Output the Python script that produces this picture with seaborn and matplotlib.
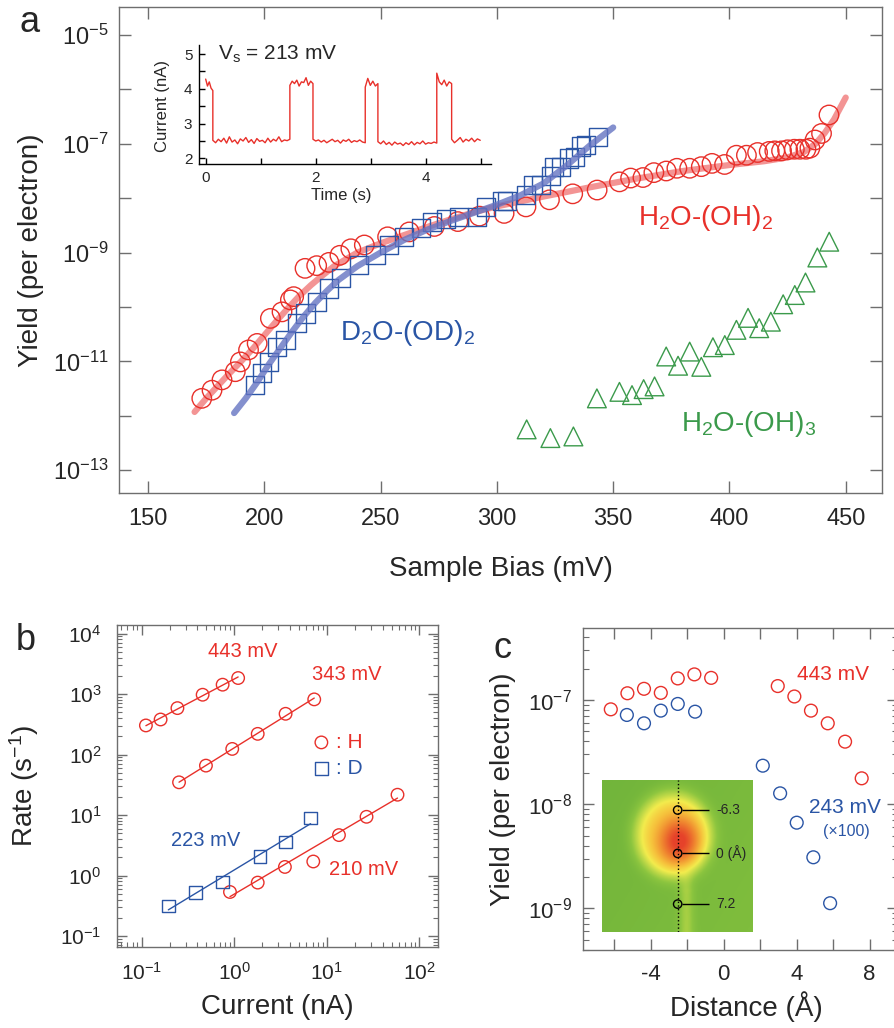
import numpy as np
import matplotlib
matplotlib.use("Agg")
import matplotlib.pyplot as plt
import seaborn as sns
from matplotlib.ticker import FixedLocator, FuncFormatter, NullLocator, LogLocator
from matplotlib.colors import LinearSegmentedColormap

sns.set_theme(style="ticks")
plt.rcParams["font.family"] = ["Liberation Sans", "DejaVu Sans"]
plt.rcParams["mathtext.default"] = "regular"

RED = "#e8302a"
BLUE = "#2a55a5"
GREEN = "#3b9a4b"
GREY = "#6e6e6e"

# ---- panel a: yield vs sample bias (yields as log10) ----
h2_bias = [173.1, 177.5, 181.8, 187.5, 189.7, 193.2, 196.9, 202.6, 207.6, 211.2, 212.6,
           217.5, 222.5, 227.8, 232.5, 237.2, 243.0, 253.0, 262.3, 273.1, 283.2, 292.5,
           303.1, 312.5, 322.6, 332.6, 343.1, 352.7, 357.5, 362.8, 367.5, 372.8, 377.4,
           382.9, 387.9, 392.5, 397.9, 403.0, 407.3, 412.1, 417.1, 419.5, 422.4, 425.0,
           427.9, 430.3, 432.9, 434.6, 436.8, 439.6, 442.8]
h2_log_yield = [-11.68, -11.53, -11.34, -11.19, -11.01, -10.79, -10.67, -10.21, -10.09, -9.87, -9.81,
                -9.29, -9.24, -9.18, -9.05, -8.93, -8.86, -8.71, -8.62, -8.52, -8.43, -8.33,
                -8.28, -8.16, -8.03, -7.92, -7.85, -7.70, -7.63, -7.62, -7.53, -7.50, -7.45,
                -7.45, -7.42, -7.36, -7.38, -7.21, -7.21, -7.16, -7.14, -7.13, -7.13, -7.11,
                -7.10, -7.10, -7.10, -7.08, -6.93, -6.81, -6.47]

d2_bias = [196.1, 199.0, 201.9, 205.5, 209.1, 214.1, 217.7, 222.7, 227.7, 232.8, 240.6, 247.8,
           253.6, 260.0, 267.2, 272.2, 278.0, 283.7, 291.6, 295.2, 302.4, 304.5, 312.5, 315.4,
           319.0, 323.3, 324.7, 327.6, 331.2, 333.4, 336.2, 338.4, 343.4]
d2_log_yield = [-11.43, -11.22, -11.01, -10.73, -10.61, -10.30, -10.12, -9.90, -9.66, -9.46, -9.23, -9.04,
                -8.86, -8.71, -8.55, -8.43, -8.38, -8.34, -8.34, -8.17, -8.05, -8.06, -7.94, -7.76,
                -7.76, -7.60, -7.43, -7.42, -7.27, -7.25, -7.05, -7.02, -6.87]

h3_bias = [312.8, 323.0, 332.9, 343.0, 352.7, 358.1, 363.1, 367.8, 372.8, 377.9, 382.9, 387.9,
           392.9, 398.0, 403.0, 408.0, 412.8, 417.8, 423.1, 428.1, 432.7, 437.8, 442.9]
h3_log_yield = [-12.25, -12.41, -12.38, -11.68, -11.56, -11.62, -11.51, -11.46, -10.91, -11.08, -10.82, -11.10,
                -10.74, -10.70, -10.42, -10.20, -10.39, -10.27, -9.95, -9.78, -9.55, -9.09, -8.80]

# fitted curves
h2_fit_bias = [170, 175, 180, 185, 190, 195, 200, 205, 210, 215, 220, 225, 230, 240, 250, 260,
               270, 280, 290, 300, 320, 340, 360, 380, 400, 415, 425, 432, 437, 441, 445, 450]
h2_fit_log = [-11.93, -11.68, -11.45, -11.22, -11.0, -10.77, -10.52, -10.27, -10.03, -9.8, -9.6, -9.42,
              -9.25, -9.0, -8.83, -8.68, -8.53, -8.39, -8.26, -8.15, -7.97, -7.8, -7.64, -7.5,
              -7.39, -7.32, -7.25, -7.15, -7.0, -6.8, -6.55, -6.15]
d2_fit_bias = [187, 192, 197, 202, 207, 212, 217, 222, 227, 232, 240, 250, 260, 270, 280, 290,
               300, 310, 320, 330, 340, 350]
d2_fit_log = [-11.95, -11.68, -11.38, -11.05, -10.75, -10.45, -10.17, -9.92, -9.7, -9.5, -9.25, -9.0,
              -8.77, -8.58, -8.42, -8.27, -8.12, -7.95, -7.73, -7.4, -7.03, -6.7]

# inset: telegraph current at Vs = 213 mV
seg_start = [0.00, 0.13, 1.53, 1.95, 2.90, 3.13, 4.20, 4.47]
seg_end = [0.13, 1.53, 1.95, 2.90, 3.13, 4.20, 4.47, 4.99]
seg_current = [
    [4.28, 4.08, 4.20, 4.02, 3.95],
    [2.52, 2.45, 2.55, 2.48, 2.58, 2.44, 2.62, 2.47, 2.53, 2.42, 2.56, 2.50, 2.60, 2.46, 2.54,
     2.43, 2.57, 2.49, 2.52, 2.45, 2.58, 2.47, 2.55, 2.50, 2.62, 2.48, 2.53, 2.51, 2.55],
    [4.10, 4.22, 4.15, 4.25, 4.08, 4.20, 4.18, 4.32, 4.10, 4.22, 4.15],
    [2.55, 2.50, 2.53, 2.47, 2.52, 2.45, 2.50, 2.55, 2.48, 2.52, 2.44, 2.53, 2.49, 2.55, 2.46,
     2.51, 2.48, 2.53, 2.47, 2.45],
    [4.05, 4.30, 4.10, 4.22, 4.08, 4.15],
    [2.48, 2.42, 2.50, 2.40, 2.46, 2.38, 2.47, 2.41, 2.44, 2.37, 2.45, 2.40, 2.48, 2.39, 2.46,
     2.42, 2.50, 2.41, 2.45, 2.43, 2.47, 2.44],
    [4.45, 4.20, 4.12, 4.25, 4.08, 4.20, 4.15],
    [2.55, 2.45, 2.52, 2.60, 2.47, 2.55, 2.50, 2.58, 2.48, 2.56, 2.52],
]

# ---- panel b: rate vs current ----
b443_current = [0.111, 0.160, 0.243, 0.455, 0.748, 1.10]
b443_rate = [303, 380, 586, 975, 1429, 1841]
b343_current = [0.253, 0.494, 0.95, 1.79, 3.58, 7.30]
b343_rate = [34.8, 65.7, 124, 220, 472, 817]
b210_current = [0.898, 1.79, 3.52, 7.13, 13.5, 26.8, 57.9]
b210_rate = [0.536, 0.766, 1.39, 1.71, 4.67, 9.37, 21.7]
b210_in_fit = [True, True, True, False, True, True, True]
b223_current = [0.194, 0.383, 0.748, 1.89, 3.58, 6.67]
b223_rate = [0.314, 0.523, 0.785, 2.07, 3.61, 8.91]

# ---- panel c: yield vs distance ----
c443_dist = [-6.18, -5.27, -4.36, -3.44, -2.51, -1.60, -0.68, 2.97, 3.88, 4.79, 5.71, 6.66, 7.57]
c443_yield = [8.13e-8, 1.16e-7, 1.28e-7, 1.17e-7, 1.61e-7, 1.76e-7, 1.63e-7, 1.36e-7, 1.08e-7,
              7.90e-8, 5.97e-8, 3.98e-8, 1.77e-8]
c243_dist = [-5.30, -4.36, -3.44, -2.51, -1.56, 2.15, 3.10, 4.01, 4.92, 5.84]
c243_yield = [7.18e-8, 5.97e-8, 7.90e-8, 9.16e-8, 7.72e-8, 2.34e-8, 1.27e-8, 6.64e-9, 3.09e-9, 1.12e-9]

# STM image inset: marked points along the line
stm_line_x = 0.507
stm_mark_y = [0.802, 0.516, 0.182]
stm_mark_labels = ["-6.3", "0 (Å)", "7.2"]


def box(left, top, right, bottom, W=894.0, H=1028.0):
    return [left / W, 1 - bottom / H, (right - left) / W, (bottom - top) / H]


def style(ax, size, length, minor_len=None):
    for sp in ax.spines.values():
        sp.set_color(GREY)
        sp.set_linewidth(1.0)
    ax.tick_params(which="major", direction="in", color=GREY, width=1.0, length=length,
                   labelsize=size, top=True, right=True)
    ax.tick_params(which="minor", direction="in", color=GREY, width=0.8,
                   length=minor_len or length / 2, top=True, right=True)


def pow10(v, pos):
    return r"$10^{%d}$" % int(round(np.log10(v)))


def open_scatter(ax, x, y, marker, size, color, lw=1.0, **kw):
    sns.scatterplot(x=x, y=y, ax=ax, marker=marker, s=size ** 2, facecolor="none",
                    edgecolor=color, linewidth=lw, zorder=3, **kw)


fig = plt.figure(figsize=(8.94, 10.28), dpi=100)

# ================= panel a =================
ax_a = fig.add_axes(box(119, 7, 882, 493))
sns.lineplot(x=h2_fit_bias, y=10.0 ** np.array(h2_fit_log), ax=ax_a, color="#f07a7a",
             lw=4.5, alpha=0.8, sort=False, estimator=None, zorder=2)
sns.lineplot(x=d2_fit_bias, y=10.0 ** np.array(d2_fit_log), ax=ax_a, color="#6674c2",
             lw=4.5, alpha=0.8, sort=False, estimator=None, zorder=4)
open_scatter(ax_a, h2_bias, 10.0 ** np.array(h2_log_yield), "o", 14, RED)
open_scatter(ax_a, d2_bias, 10.0 ** np.array(d2_log_yield), "s", 13, BLUE)
open_scatter(ax_a, h3_bias, 10.0 ** np.array(h3_log_yield), "^", 13.5, GREEN)
ax_a.set_yscale("log")
ax_a.set_xlim(137.5, 465.6)
ax_a.set_ylim(10 ** -13.42, 10 ** -4.485)
ax_a.xaxis.set_major_locator(FixedLocator([150, 200, 250, 300, 350, 400, 450]))
ax_a.yaxis.set_major_locator(FixedLocator([10.0 ** e for e in range(-13, -4)]))
ax_a.yaxis.set_minor_locator(NullLocator())
ax_a.yaxis.set_major_formatter(FuncFormatter(
    lambda v, p: pow10(v, p) if int(round(np.log10(v))) % 2 else ""))
style(ax_a, 17, 8.6)
ax_a.tick_params(axis="y", pad=7.5)
ax_a.tick_params(axis="x", pad=11)
ax_a.set_xlabel("Sample Bias (mV)", fontsize=20)
ax_a.set_ylabel("Yield (per electron)", fontsize=20)
ax_a.xaxis.set_label_coords(0.5, -0.13)
ax_a.yaxis.set_label_coords(-0.098, 0.5)
ax_a.text(389.5, 10 ** -8.36, r"H$_2$O-(OH)$_2$", color=RED, fontsize=20, ha="center", va="center")
ax_a.text(261.5, 10 ** -10.48, r"D$_2$O-(OD)$_2$", color=BLUE, fontsize=20, ha="center", va="center")
ax_a.text(408.1, 10 ** -12.15, r"H$_2$O-(OH)$_3$", color=GREEN, fontsize=20, ha="center", va="center")

# inset trace
ax_in = fig.add_axes(box(199.3, 45, 490.7, 164.3))
trace_t = np.concatenate([np.linspace(s, e, len(v)) for s, e, v in zip(seg_start, seg_end, seg_current)])
trace_i = np.concatenate(seg_current)
sns.lineplot(x=trace_t, y=trace_i, ax=ax_in, color=RED, lw=1.0, sort=False, estimator=None)
ax_in.set_xlim(-0.116, 5.18)
ax_in.set_ylim(1.83, 5.26)
ax_in.patch.set_alpha(0)
for side in ["top", "right"]:
    ax_in.spines[side].set_visible(False)
for side in ["left", "bottom"]:
    ax_in.spines[side].set_color("black")
    ax_in.spines[side].set_linewidth(1.0)
ax_in.xaxis.set_major_locator(FixedLocator([0, 2, 4]))
ax_in.xaxis.set_minor_locator(FixedLocator([1, 3, 5]))
ax_in.yaxis.set_major_locator(FixedLocator([2, 3, 4, 5]))
ax_in.yaxis.set_minor_locator(FixedLocator([2.5, 3.5, 4.5]))
ax_in.tick_params(which="both", direction="in", length=4, width=1.0, color="black", labelsize=11, pad=5)
ax_in.set_xlabel("Time (s)", fontsize=12)
ax_in.set_ylabel("Current (nA)", fontsize=12)
ax_in.xaxis.set_label_coords(0.488, -0.2)
ax_in.yaxis.set_label_coords(-0.1, 0.49)
ax_in.text(0.22, 5.0, r"V$_s$ = 213 mV", fontsize=15, ha="left", va="center")

# ================= panel b =================
ax_b = fig.add_axes(box(116.8, 624.6, 438, 947))
b_series = [
    (b443_current, b443_rate, [True] * 6, RED),
    (b343_current, b343_rate, [True] * 6, RED),
    (b210_current, b210_rate, b210_in_fit, RED),
    (b223_current, b223_rate, [True] * 6, BLUE),
]
for cur, rate, use, col in b_series:
    lx = np.log10(np.array(cur)[use])
    ly = np.log10(np.array(rate)[use])
    slope, icpt = np.polyfit(lx, ly, 1)
    xs = np.array([min(cur), max(cur)])
    sns.lineplot(x=xs, y=10 ** (slope * np.log10(xs) + icpt), ax=ax_b, color=col, lw=1.0,
                 sort=False, estimator=None)
open_scatter(ax_b, b443_current, b443_rate, "o", 9, RED, label=": H")
open_scatter(ax_b, b343_current, b343_rate, "o", 9, RED)
open_scatter(ax_b, b210_current, b210_rate, "o", 9, RED)
open_scatter(ax_b, b223_current, b223_rate, "s", 9, BLUE, label=": D")
ax_b.set_xscale("log")
ax_b.set_yscale("log")
ax_b.set_xlim(10 ** -1.269, 10 ** 2.20)
ax_b.set_ylim(10 ** -1.18, 10 ** 4.148)
ax_b.xaxis.set_major_locator(FixedLocator([0.1, 1, 10, 100]))
ax_b.yaxis.set_major_locator(FixedLocator([0.1, 1, 10, 100, 1000, 10000]))
for axis in [ax_b.xaxis, ax_b.yaxis]:
    axis.set_minor_locator(LogLocator(base=10, subs=np.arange(2, 10), numticks=12))
    axis.set_major_formatter(FuncFormatter(pow10))
    axis.set_minor_formatter(FuncFormatter(lambda v, p: ""))
style(ax_b, 15, 7, 3.5)
ax_b.tick_params(axis="both", which="major", pad=11)
ax_b.set_xlabel("Current (nA)", fontsize=20)
ax_b.set_ylabel(r"Rate (s$^{-1}$)", fontsize=20)
ax_b.xaxis.set_label_coords(0.5, -0.145)
ax_b.yaxis.set_label_coords(-0.235, 0.5)
ax_b.text(0.393, 0.916, "443 mV", color=RED, fontsize=14.5, ha="center", va="center", transform=ax_b.transAxes)
ax_b.text(0.716, 0.844, "343 mV", color=RED, fontsize=14.5, ha="center", va="center", transform=ax_b.transAxes)
ax_b.text(0.275, 0.330, "223 mV", color=BLUE, fontsize=14.5, ha="center", va="center", transform=ax_b.transAxes)
ax_b.text(0.767, 0.239, "210 mV", color=RED, fontsize=14.5, ha="center", va="center", transform=ax_b.transAxes)
leg = ax_b.legend(frameon=False, fontsize=15, loc="upper left", bbox_to_anchor=(0.585, 0.69),
                  handlelength=0.8, handletextpad=0.3, labelspacing=0.35, borderaxespad=0)
for txt, col in zip(leg.get_texts(), [RED, BLUE]):
    txt.set_color(col)

# ================= panel c =================
ax_c = fig.add_axes(box(582.7, 628.3, 898, 950))
open_scatter(ax_c, c443_dist, c443_yield, "o", 9.2, RED)
open_scatter(ax_c, c243_dist, c243_yield, "o", 9.2, BLUE)
ax_c.set_yscale("log")
ax_c.set_xlim(-7.72, 9.56)
ax_c.set_ylim(10 ** -9.40, 10 ** -6.312)
ax_c.xaxis.set_major_locator(FixedLocator([-6, -4, -2, 0, 2, 4, 6, 8]))
ax_c.xaxis.set_major_formatter(FuncFormatter(lambda v, p: "%d" % v if round(v) % 4 == 0 else ""))
ax_c.yaxis.set_major_locator(FixedLocator([1e-9, 1e-8, 1e-7]))
ax_c.yaxis.set_minor_locator(LogLocator(base=10, subs=np.arange(2, 10), numticks=12))
ax_c.yaxis.set_major_formatter(FuncFormatter(pow10))
ax_c.yaxis.set_minor_formatter(FuncFormatter(lambda v, p: ""))
style(ax_c, 16, 8, 4)
ax_c.tick_params(axis="y", which="major", pad=8)
ax_c.tick_params(axis="x", which="major", pad=10)
ax_c.set_xlabel("Distance (Å)", fontsize=20)
ax_c.set_ylabel("Yield (per electron)", fontsize=20)
ax_c.xaxis.set_label_coords(0.52, -0.127)
ax_c.yaxis.set_label_coords(-0.213, 0.5)
ax_c.text(0.795, 0.855, "443 mV", color=RED, fontsize=15, ha="center", va="center", transform=ax_c.transAxes)
ax_c.text(0.832, 0.444, "243 mV", color=BLUE, fontsize=15, ha="center", va="center", transform=ax_c.transAxes)
ax_c.text(0.835, 0.368, "(×100)", color=BLUE, fontsize=11.5, ha="center", va="center", transform=ax_c.transAxes)

# STM topograph inset
gy, gx = np.mgrid[0:1:160j, 0:1:160j]
blob = np.exp(-(((gx - 0.47) / 0.265) ** 2 + ((gy - 0.36) / 0.29) ** 2) ** 2.5)
core = np.exp(-(((gx - 0.51) / 0.13) ** 2 + ((gy - 0.40) / 0.15) ** 2))
stem = 0.17 * np.exp(-((gx - 0.56) / 0.05) ** 2) * np.clip((gy - 0.58) / 0.15, 0, 1)
field = np.clip(0.5 * blob + 0.5 * core + stem + 0.05 * gx + 0.03 * gy, 0, 1)
stm_cmap = LinearSegmentedColormap.from_list("stm", [
    (0.0, "#72b53b"), (0.15, "#8cc53f"), (0.3, "#c2da48"), (0.42, "#f3ec4d"),
    (0.58, "#f6c23c"), (0.76, "#f08a30"), (1.0, "#e6422a")])
ax_img = fig.add_axes(box(601.5, 780, 751.7, 931.7))
ax_img.imshow(field, cmap=stm_cmap, vmin=0, vmax=1, extent=[0, 1, 0, 1], origin="upper",
              aspect="auto", interpolation="bilinear")
ax_img.plot([stm_line_x, stm_line_x], [0, 1], color="black", ls=":", lw=1.0)
sns.scatterplot(x=[stm_line_x] * len(stm_mark_y), y=stm_mark_y, ax=ax_img, marker="o", s=36,
                facecolor="none", edgecolor="black", linewidth=1.0, zorder=3)
ax_img.hlines(stm_mark_y, stm_line_x + 0.027, 0.717, color="black", lw=1.0)
for yv, lab in zip(stm_mark_y, stm_mark_labels):
    ax_img.text(0.762, yv, lab, fontsize=10, ha="left", va="center")
ax_img.set_xlim(0, 1)
ax_img.set_ylim(0, 1)
ax_img.set_axis_off()

# panel letters
fig.text(30 / 894, 1 - 23 / 1028, "a", fontsize=26, ha="center", va="center")
fig.text(26 / 894, 1 - 640 / 1028, "b", fontsize=26, ha="center", va="center")
fig.text(502 / 894, 1 - 648 / 1028, "c", fontsize=26, ha="center", va="center")

fig.savefig("out.png", dpi=100)
